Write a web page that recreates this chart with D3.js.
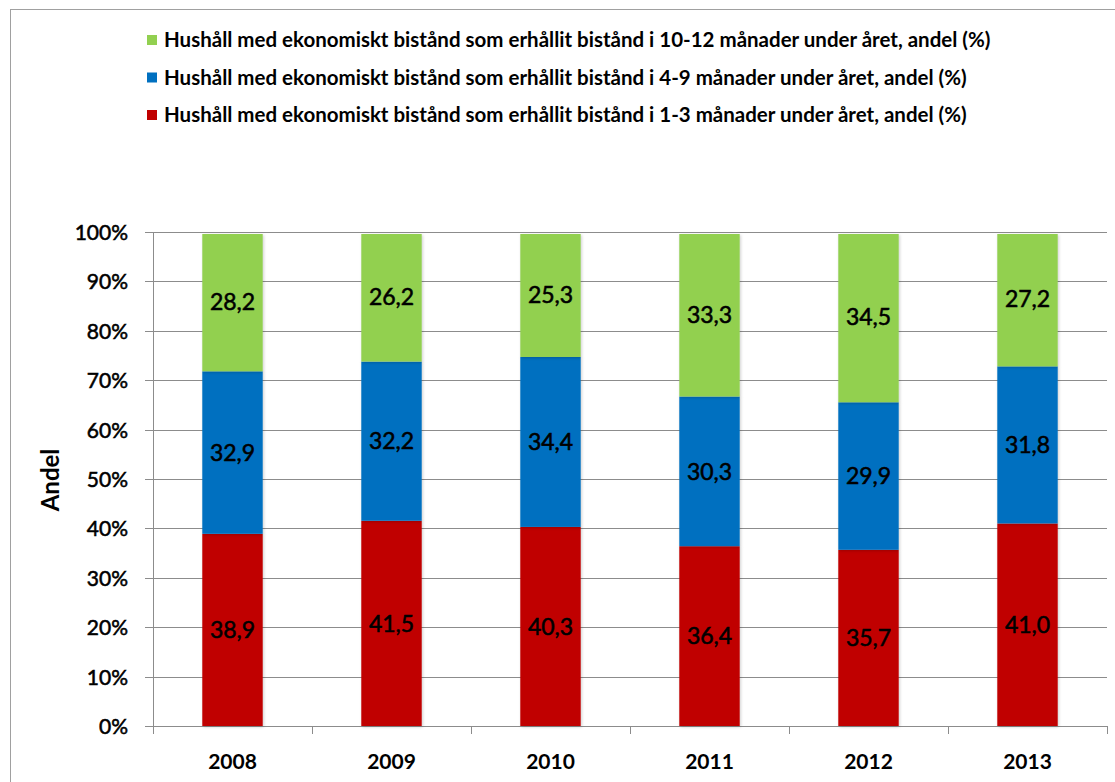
<!DOCTYPE html>
<html>
<head>
<meta charset="utf-8">
<script src="https://cdn.jsdelivr.net/npm/d3@7"></script>
<style>
  body { margin: 0; background: #fff; }
  text { font-family: Lato, "Open Sans", sans-serif; font-weight: bold; fill: #000; }
  .med { font-weight: normal; stroke: #000; stroke-width: 0.55px; }
</style>
</head>
<body>
<script>
var years = ["2008", "2009", "2010", "2011", "2012", "2013"];
var seriesNames = [
  "Hushåll med ekonomiskt bistånd som erhållit bistånd i 1-3 månader under året, andel (%)",
  "Hushåll med ekonomiskt bistånd som erhållit bistånd i 4-9 månader under året, andel (%)",
  "Hushåll med ekonomiskt bistånd som erhållit bistånd i 10-12 månader under året, andel (%)"
];
var months1to3 = [38.9, 41.5, 40.3, 36.4, 35.7, 41.0];
var months4to9 = [32.9, 32.2, 34.4, 30.3, 29.9, 31.8];
var months10to12 = [28.2, 26.2, 25.3, 33.3, 34.5, 27.2];
var yTicks = [0, 0.1, 0.2, 0.3, 0.4, 0.5, 0.6, 0.7, 0.8, 0.9, 1];
var colors = ["#C00000", "#0070C0", "#92D050"];

var W = 1115, H = 782;
var margin = {top: 232, right: 8, bottom: 56, left: 153},
    width = W - margin.left - margin.right,
    height = H - margin.top - margin.bottom;

var svg = d3.select("body").append("svg")
    .attr("width", W)
    .attr("height", H);

// outer chart border
svg.append("rect")
    .attr("x", 10.5).attr("y", 9.5)
    .attr("width", W + 10).attr("height", H + 10)
    .attr("fill", "none")
    .attr("stroke", "#a0a0a0");

var table = years.map(function(y, i) {
  var tot = months1to3[i] + months4to9[i] + months10to12[i];
  return {year: y, s0: months1to3[i], s1: months4to9[i], s2: months10to12[i], tot: tot};
});

var stack = d3.stack()
    .keys(["s0", "s1", "s2"])
    .value(function(d, k) { return d[k] / d.tot; });
var layers = stack(table);

var x = d3.scaleBand().domain(years).range([0, width]).paddingInner(0.62).paddingOuter(0.31);
var band = d3.scaleBand().domain(years).range([0, width]);
var y = d3.scaleLinear().domain([0, 1]).range([height, 0]);

var g = svg.append("g")
    .attr("transform", "translate(" + margin.left + "," + margin.top + ")");

// gridlines
g.selectAll(".grid")
    .data(yTicks)
  .enter().append("line")
    .attr("x1", -8).attr("x2", width)
    .attr("y1", function(d) { return Math.round(y(d)) + 0.5; })
    .attr("y2", function(d) { return Math.round(y(d)) + 0.5; })
    .attr("stroke", "#8c8c8c")
    .attr("stroke-width", 1);

// y axis
var yAxis = d3.axisLeft(y)
    .tickValues(yTicks)
    .tickSize(0)
    .tickPadding(25)
    .tickFormat(d3.format(".0%"));
var ya = g.append("g").call(yAxis);
ya.select(".domain").attr("stroke", "#8c8c8c");
ya.selectAll("text")
    .attr("class", "med")
    .style("font-size", "21px")
    .attr("dy", "0.36em");

// x axis
var xa = g.append("g")
    .attr("transform", "translate(0," + height + ")");
xa.append("line")
    .attr("x1", 0).attr("x2", width)
    .attr("y1", 0.5).attr("y2", 0.5)
    .attr("stroke", "#8c8c8c");
var bounds = years.map(function(d) { return band(d); }).concat([width]);
xa.selectAll(".xt")
    .data(bounds)
  .enter().append("line")
    .attr("x1", function(d) { return Math.round(d) + 0.5; })
    .attr("x2", function(d) { return Math.round(d) + 0.5; })
    .attr("y1", 0).attr("y2", 8)
    .attr("stroke", "#8c8c8c");
xa.selectAll(".xl")
    .data(years)
  .enter().append("text")
    .attr("x", function(d) { return band(d) + band.bandwidth() / 2; })
    .attr("y", 43)
    .attr("text-anchor", "middle")
    .style("font-size", "21px")
    .text(function(d) { return d; });

// y axis title
svg.append("text")
    .attr("transform", "translate(59,480) rotate(-90)")
    .attr("text-anchor", "middle")
    .style("font-size", "24px")
    .text("Andel");

// shadow filter
var defs = svg.append("defs");
var f = defs.append("filter").attr("id", "sh").attr("x", "-10%").attr("y", "-10%").attr("width", "130%").attr("height", "130%");
f.append("feDropShadow").attr("dx", 1).attr("dy", 1).attr("stdDeviation", 1.5).attr("flood-color", "#000").attr("flood-opacity", 0.2);

// bars
var layer = g.selectAll(".layer")
    .data(layers)
  .enter().append("g")
    .attr("fill", function(d, i) { return colors[i]; });

layer.selectAll("rect")
    .data(function(d) { return d; })
  .enter().append("rect")
    .attr("x", function(d) { return x(d.data.year); })
    .attr("y", function(d) { return y(d[1]) + (d[1] > 0.999 ? 2 : 0); })
    .attr("height", function(d) { return y(d[0]) - y(d[1]) - (d[1] > 0.999 ? 2 : 0); })
    .attr("width", x.bandwidth())
    .attr("filter", "url(#sh)");

// data labels
layer.each(function(L, i) {
  d3.select(this).selectAll(".lbl")
      .data(L)
    .enter().append("text")
      .attr("class", "med")
      .attr("x", function(d) { return x(d.data.year) + x.bandwidth() / 2; })
      .attr("y", function(d) { return (y(d[0]) + y(d[1])) / 2; })
      .attr("dy", "0.36em")
      .attr("text-anchor", "middle")
      .style("font-size", "23px")
      .text(function(d) { return d3.format(".1f")(d.data["s" + i]).replace(".", ","); });
});

// legend
var legend = svg.selectAll(".legend")
    .data([2, 1, 0])
  .enter().append("g")
    .attr("transform", function(d, i) { return "translate(147," + (40 + i * 37.5) + ")"; });
legend.append("rect")
    .attr("x", 0).attr("y", -5)
    .attr("width", 10).attr("height", 10)
    .attr("fill", function(d) { return colors[d]; });
legend.append("text")
    .attr("x", 17)
    .attr("dy", "0.36em")
    .style("font-size", "20.5px")
    .text(function(d) { return seriesNames[d]; });
</script>
</body>
</html>
